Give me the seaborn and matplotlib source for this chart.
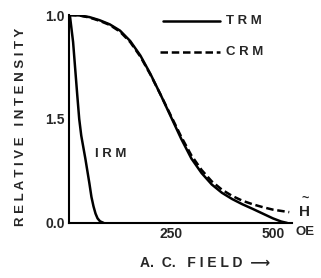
import matplotlib
matplotlib.use("Agg")
import matplotlib.pyplot as plt
import pandas as pd
import seaborn as sns

# Values
field_trm = [0, 25, 50, 75, 100, 125, 150, 175, 200, 225, 250, 275, 300, 325, 350, 375, 400, 425, 450, 475, 500, 520, 535]
trm = [1.0, 0.998, 0.99, 0.975, 0.955, 0.925, 0.875, 0.805, 0.715, 0.615, 0.51, 0.405, 0.31, 0.24, 0.185, 0.145, 0.115, 0.09, 0.068, 0.045, 0.022, 0.007, 0.0]

field_crm = [0, 25, 50, 75, 100, 125, 150, 175, 200, 225, 250, 275, 300, 325, 350, 375, 400, 425, 450, 475, 500, 540]
crm = [1.0, 0.998, 0.988, 0.972, 0.952, 0.92, 0.87, 0.8, 0.712, 0.615, 0.515, 0.415, 0.325, 0.255, 0.2, 0.16, 0.13, 0.107, 0.09, 0.076, 0.064, 0.052]

field_irm = [2, 10, 20, 25, 30, 40, 50, 55, 60, 65, 70, 76, 85]
irm = [1.0, 0.87, 0.62, 0.5, 0.42, 0.31, 0.19, 0.125, 0.08, 0.045, 0.022, 0.008, 0.0]

y_ticks = [0.0, 0.5, 1.0]
y_tick_labels = ["0.0", "1.5", "1.0"]
x_ticks = [250, 500]
x_tick_labels = ["250", "500"]

sns.set_style("white")
plt.rcParams["font.family"] = ["Liberation Sans", "DejaVu Sans"]
plt.rcParams["font.weight"] = "bold"

fig = plt.figure(figsize=(3.21, 2.78), dpi=100)
ax = fig.add_axes([0.215, 0.198, 0.695, 0.748])

df_trm = pd.DataFrame({"field": field_trm, "value": trm})
df_crm = pd.DataFrame({"field": field_crm, "value": crm})
df_irm = pd.DataFrame({"field": field_irm, "value": irm})

dash = (0, (3, 1.5))
sns.lineplot(data=df_trm, x="field", y="value", ax=ax, color="black", linewidth=1.8)
sns.lineplot(data=df_crm, x="field", y="value", ax=ax, color="black", linewidth=1.8, linestyle=dash)
sns.lineplot(data=df_irm, x="field", y="value", ax=ax, color="black", linewidth=1.8)

ax.set_xlim(0, 547)
ax.set_ylim(0, 1.0)
ax.spines["top"].set_visible(False)
ax.spines["right"].set_visible(False)
for s in ("left", "bottom"):
    ax.spines[s].set_linewidth(1.5)
    ax.spines[s].set_color("black")

ax.set_yticks(y_ticks)
ax.set_yticklabels(y_tick_labels, fontsize=10, fontweight="bold")
ax.set_xticks(x_ticks)
ax.set_xticklabels(x_tick_labels, fontsize=10, fontweight="bold")
ax.tick_params(direction="in", length=7, width=1.2, color="black", pad=3)

ax.set_xlabel("A.  C.   F I E L D  \u27f6", fontsize=10, fontweight="bold")
ax.xaxis.set_label_coords(0.61, -0.16)
ax.set_ylabel("R E L A T I V E   I N T E N S I T Y", fontsize=9.5, fontweight="bold")
ax.yaxis.set_label_coords(-0.19, 0.46)

# legend drawn as in the original, line samples with text
ax.plot([230, 370], [0.97, 0.97], color="black", linewidth=1.8, clip_on=False)
ax.text(385, 0.97, "T R M", fontsize=9.5, fontweight="bold", va="center")
ax.plot([222, 370], [0.82, 0.82], color="black", linewidth=1.8, linestyle=dash, clip_on=False)
ax.text(385, 0.82, "C R M", fontsize=9.5, fontweight="bold", va="center")

ax.text(64, 0.33, "I R M", fontsize=9.5, fontweight="bold", va="center")
ax.text(578, 0.055, "H", fontsize=11, va="center", ha="center", clip_on=False)
ax.text(578, 0.115, "~", fontsize=9, va="center", ha="center", clip_on=False)
ax.text(578, -0.015, "OE", fontsize=9.5, fontweight="bold", va="top", ha="center", clip_on=False)

fig.savefig("out.png", dpi=100)
